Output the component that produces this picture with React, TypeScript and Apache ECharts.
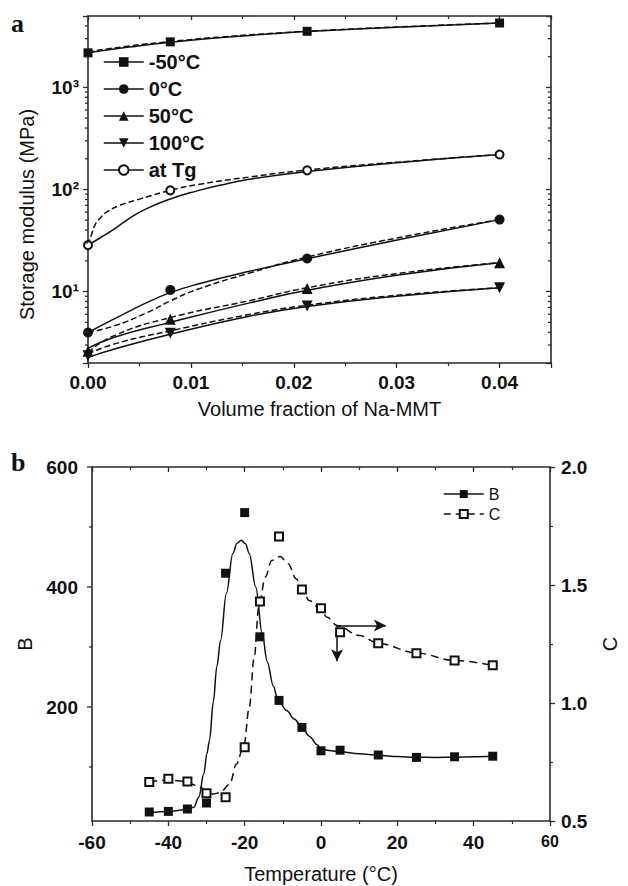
import React, { useEffect, useRef } from "react";
import * as echarts from "echarts";

// ---------- Panel a: storage modulus vs volume fraction ----------
const fractionX = [0, 0.008, 0.0213, 0.04];
const modulusM50 = [2180, 2790, 3540, 4270];
const modulus0 = [3.98, 10.4, 21.1, 50.7];
const modulus50 = [2.6, 5.37, 10.7, 19.2];
const modulus100 = [2.35, 3.92, 7.24, 10.9];
const modulusTg = [28.5, 98, 154, 220];

// fitted curves: [fraction, modulus]
const fitM50Solid = [[0, 2180], [0.004, 2480], [0.008, 2770], [0.013, 3080], [0.0187, 3390], [0.0213, 3520], [0.03, 3880], [0.04, 4270]];
const fitM50Dashed = [[0, 2230], [0.004, 2540], [0.008, 2810], [0.013, 3120], [0.0187, 3420], [0.0213, 3545], [0.03, 3900], [0.04, 4270]];
const fitTgSolid = [[0, 28.5], [0.0012, 33.7], [0.0025, 40.6], [0.0041, 52.7], [0.0057, 65], [0.008, 80.8], [0.0106, 97], [0.0128, 110], [0.0158, 126.5], [0.0213, 150], [0.03, 183], [0.04, 220]];
const fitTgDashed = [[0, 28.5], [0.0004, 37.7], [0.0007, 45.4], [0.0012, 52.7], [0.0018, 60], [0.0031, 70], [0.0051, 81], [0.008, 98], [0.0106, 111.5], [0.0158, 133], [0.0213, 155], [0.03, 185], [0.04, 220]];
const fit0Solid = [[0, 3.98], [0.0025, 5.37], [0.0057, 7.8], [0.008, 9.77], [0.0106, 11.8], [0.0158, 15.9], [0.0213, 21.0], [0.031, 33.5], [0.04, 50.7]];
const fit0Dashed = [[0, 3.98], [0.0025, 4.6], [0.0057, 6.2], [0.008, 8.1], [0.0106, 10.5], [0.0158, 15.3], [0.0213, 21.8], [0.031, 35], [0.04, 50.7]];
const fit50Solid = [[0, 2.79], [0.0025, 3.56], [0.008, 5.0], [0.0158, 7.8], [0.0213, 10.3], [0.03, 14.5], [0.04, 19.2]];
const fit50Dashed = [[0, 2.54], [0.0025, 3.69], [0.008, 5.57], [0.0158, 8.2], [0.0213, 10.9], [0.03, 15.0], [0.04, 19.2]];
const fit100Solid = [[0, 2.27], [0.0025, 2.73], [0.008, 3.83], [0.0158, 5.78], [0.0213, 7.15], [0.03, 9.0], [0.04, 10.9]];
const fit100Dashed = [[0, 2.44], [0.0025, 3.06], [0.008, 4.13], [0.0158, 6.0], [0.0213, 7.35], [0.03, 9.2], [0.04, 10.9]];

const logMinorTicks = [3, 4, 5, 6, 7, 8, 9, 20, 30, 40, 50, 60, 70, 80, 90, 200, 300, 400, 500, 600, 700, 800, 900, 2000, 3000, 4000];

// ---------- Panel b: B and C vs temperature ----------
const temperatures = [-45, -40, -35, -30, -25, -20, -16, -11, -5, 0, 5, 15, 25, 35, 45];
const valuesB = [25, 26, 30, 40, 423, 524, 317, 211, 166, 127, 128, 120, 116, 117, 118];
const valuesC = [0.665, 0.679, 0.667, 0.618, 0.601, 0.812, 1.43, 1.705, 1.481, 1.402, 1.3, 1.253, 1.211, 1.18, 1.16];

const fitB = [[-45, 24], [-40, 26], [-35, 29], [-33.3, 33], [-32, 50], [-30.7, 89], [-29.9, 122], [-29.2, 145], [-28.2, 209], [-27.3, 267], [-26.3, 311], [-24.8, 389], [-23.1, 456], [-22, 473], [-20.9, 478], [-19.8, 472], [-18.8, 456], [-17.1, 400], [-15.4, 322], [-14.1, 276], [-12.5, 235], [-11.3, 212], [-9, 194], [-7, 180], [-5, 166], [-3, 151], [-1, 137], [0, 131], [1.5, 128], [5, 125.5], [10, 122], [15, 119.5], [20, 117.5], [25, 116.2], [30, 116], [35, 116.2], [40, 117], [45, 117.8]];
const fitC = [[-45, 0.665], [-42, 0.672], [-40, 0.674], [-37, 0.67], [-35, 0.665], [-33, 0.652], [-31.6, 0.642], [-30, 0.628], [-28.2, 0.614], [-26.5, 0.62], [-23.9, 0.656], [-22.2, 0.74], [-20.2, 0.82], [-18.8, 0.981], [-17.5, 1.194], [-16.3, 1.406], [-14.6, 1.533], [-12.9, 1.604], [-10.7, 1.621], [-8.6, 1.59], [-6.5, 1.526], [-5, 1.485], [-3.1, 1.434], [0, 1.395], [1.6, 1.363], [4.2, 1.328], [10.1, 1.286], [15, 1.253], [25, 1.212], [35, 1.18], [45, 1.16]];

const bMajorTicks = [200, 400, 600];
const bMinorTicks = [100, 300, 500];
const bLabelValues = [200, 400, 600];

// arrows pointing to the C axis: [start, end]
const arrowStart = [4.2, 1.328];
const arrowRightEnd = [17, 1.328];
const arrowDownEnd = [4.2, 1.177];

const FONT = "'Liberation Sans', Arial, Helvetica, sans-serif";
const INK = "#111";
const AXIS = "#2a2a2a";

function tickSeries(xAxisIndex: number, yAxisIndex: number, edgeX: number, values: number[], len: number, dir: number) {
  return {
    type: "custom",
    xAxisIndex,
    yAxisIndex,
    silent: true,
    clip: false,
    z: 6,
    data: values.map((v) => [edgeX, v]),
    renderItem: (_p: any, api: any) => {
      const pt = api.coord([api.value(0), api.value(1)]);
      return {
        type: "line",
        shape: { x1: pt[0], y1: pt[1], x2: pt[0] + dir * len, y2: pt[1] },
        style: { stroke: AXIS, lineWidth: 1.3 },
      };
    },
  };
}

function curve(name: string, data: number[][], dashed: boolean, xi: number, yi: number, dash: number[] = [6, 3], monotone = false) {
  const s: any = {
    type: "line",
    name,
    xAxisIndex: xi,
    yAxisIndex: yi,
    data,
    symbol: "none",
    smooth: monotone ? 0.35 : 0.5,
    lineStyle: { color: INK, width: 1.5, type: dashed ? dash : "solid" },
    z: 3,
  };
  if (monotone) s.smoothMonotone = "x";
  return s;
}

function markers(name: string, ys: number[], xs: number[], symbol: string, size: number, xi: number, yi: number, rotate = 0) {
  return {
    type: "line",
    name,
    xAxisIndex: xi,
    yAxisIndex: yi,
    data: xs.map((x, i) => [x, ys[i]]),
    symbol,
    symbolSize: size,
    symbolRotate: rotate,
    showSymbol: true,
    lineStyle: { opacity: 0, width: 0 },
    itemStyle: { color: INK, borderColor: INK, borderWidth: symbol.indexOf("empty") === 0 ? 1.2 : 0 },
    z: 5,
  };
}

const superscripts: Record<string, string> = { "0": "⁰", "1": "¹", "2": "²", "3": "³", "4": "⁴" };

export default function App() {
  const ref = useRef<HTMLDivElement>(null);

  useEffect(() => {
    if (!ref.current) return;
    const chart = echarts.init(ref.current, undefined, { renderer: "svg" });

    const tickLabel = { fontFamily: FONT, fontWeight: "bold", fontSize: 19, color: INK };
    const axisLine = { show: true, onZero: false, lineStyle: { color: AXIS, width: 1.6 } };

    const option: any = {
      animation: false,
      backgroundColor: "#fff",
      textStyle: { fontFamily: FONT },
      grid: [
        { left: 88, top: 16, width: 463, height: 347 },
        { left: 92, top: 467, width: 470, height: 354 },
      ],
      xAxis: [
        {
          gridIndex: 0, type: "value", min: 0, max: 0.045, interval: 0.01,
          axisLine, splitLine: { show: false },
          axisTick: { show: true, inside: false, length: 5, lineStyle: { color: AXIS, width: 1.3 } },
          minorTick: { show: true, splitNumber: 2, length: 3, lineStyle: { color: AXIS, width: 1.2 } },
          axisLabel: {
            ...tickLabel, margin: 10,
            formatter: (v: number) => (Math.abs(v / 0.01 - Math.round(v / 0.01)) < 1e-6 ? v.toFixed(2) : ""),
          },
          name: "Volume fraction of Na-MMT", nameLocation: "middle", nameGap: 36,
          nameTextStyle: { fontFamily: FONT, fontSize: 20, color: INK },
        },
        {
          gridIndex: 0, type: "value", position: "top", min: 0, max: 0.045, interval: 0.01,
          axisLine, splitLine: { show: false }, axisLabel: { show: false },
          axisTick: { show: true, inside: true, length: 4, lineStyle: { color: AXIS, width: 1.3 } },
          minorTick: { show: true, splitNumber: 2, length: 3, lineStyle: { color: AXIS, width: 1.2 } },
        },
        {
          gridIndex: 1, type: "value", min: -60, max: 60, interval: 20,
          axisLine, splitLine: { show: false },
          axisTick: { show: true, inside: false, length: 5, lineStyle: { color: AXIS, width: 1.3 } },
          minorTick: { show: true, splitNumber: 2, length: 3, lineStyle: { color: AXIS, width: 1.2 } },
          axisLabel: {
            ...tickLabel, margin: 12,
            formatter: (v: number) => (v === 60 ? "{s|60}" : String(v)),
            rich: { s: { fontFamily: FONT, fontWeight: "bold", fontSize: 16, color: INK } },
          },
          name: "Temperature (°C)", nameLocation: "middle", nameGap: 43,
          nameTextStyle: { fontFamily: FONT, fontSize: 20, color: INK },
        },
        {
          gridIndex: 1, type: "value", position: "top", min: -60, max: 60, interval: 20,
          axisLine, splitLine: { show: false }, axisLabel: { show: false },
          axisTick: { show: true, inside: true, length: 5, lineStyle: { color: AXIS, width: 1.3 } },
          minorTick: { show: true, splitNumber: 2, length: 3, lineStyle: { color: AXIS, width: 1.2 } },
        },
      ],
      yAxis: [
        {
          gridIndex: 0, type: "log", logBase: 10, min: 2, max: 5000,
          axisLine, splitLine: { show: false },
          axisTick: { show: true, inside: false, length: 5, lineStyle: { color: AXIS, width: 1.3 } },
          axisLabel: {
            ...tickLabel, margin: 9,
            formatter: (v: number) => {
              const e = Math.round(Math.log10(v));
              if (Math.abs(v - Math.pow(10, e)) / v > 1e-6) return "";
              return "10" + String(e).split("").map((c) => superscripts[c] || c).join("");
            },
          },
          name: "Storage modulus (MPa)", nameLocation: "middle", nameGap: 51,
          nameTextStyle: { fontFamily: FONT, fontSize: 20, color: INK, padding: [0, 50, 0, 0] },
        },
        {
          gridIndex: 0, type: "log", logBase: 10, min: 2, max: 5000, position: "right",
          axisLine, splitLine: { show: false }, axisLabel: { show: false },
          axisTick: { show: true, inside: true, length: 5, lineStyle: { color: AXIS, width: 1.3 } },
        },
        {
          gridIndex: 1, type: "value", min: 10, max: 600,
          axisLine, splitLine: { show: false }, axisTick: { show: false },
          axisLabel: {
            ...tickLabel, margin: 14,
            formatter: (v: number) => (bLabelValues.indexOf(Math.round(v)) >= 0 && Math.abs(v - Math.round(v)) < 1e-6 ? String(Math.round(v)) : ""),
          },
          name: "B", nameLocation: "middle", nameGap: 57,
          nameTextStyle: { fontFamily: FONT, fontSize: 20, color: INK },
        },
        {
          gridIndex: 1, type: "value", min: 0.5, max: 2.0, interval: 0.5, position: "right",
          axisLine, splitLine: { show: false },
          axisTick: { show: true, inside: false, length: 5, lineStyle: { color: AXIS, width: 1.3 } },
          minorTick: { show: true, splitNumber: 2, length: 3, lineStyle: { color: AXIS, width: 1.2 } },
          axisLabel: { ...tickLabel, margin: 11, formatter: (v: number) => v.toFixed(1) },
          name: "C", nameLocation: "middle", nameGap: 50,
          nameTextStyle: { fontFamily: FONT, fontSize: 20, color: INK },
        },
      ],
      legend: [
        {
          left: 103, top: 52, padding: 0, orient: "vertical", itemWidth: 40, itemHeight: 12, itemGap: 7,
          data: ["-50°C", "0°C", "50°C", "100°C", "at Tg"],
          textStyle: { fontFamily: FONT, fontWeight: "bold", fontSize: 20, color: INK },
          lineStyle: { color: INK, width: 1.5, opacity: 1, type: "solid" },
          selectedMode: false,
        },
        {
          left: 443, top: 486, padding: 0, orient: "vertical", itemWidth: 40, itemHeight: 10, itemGap: 4,
          data: [
            { name: "B", lineStyle: { color: INK, width: 1.5, opacity: 1, type: "solid" } },
            { name: "C", lineStyle: { color: INK, width: 1.5, opacity: 1, type: [7, 5] } },
          ],
          textStyle: { fontFamily: FONT, fontSize: 16, color: INK },
          selectedMode: false,
        },
      ],
      graphic: [
        { type: "text", left: 11, top: 10, style: { text: "a", font: "bold 26px 'Liberation Serif', 'DejaVu Serif', serif", fill: INK } },
        { type: "text", left: 11, top: 449, style: { text: "b", font: "bold 26px 'Liberation Serif', 'DejaVu Serif', serif", fill: INK } },
      ],
      series: [
        curve("-50 solid", fitM50Solid, false, 0, 0),
        curve("-50 dashed", fitM50Dashed, true, 0, 0),
        curve("Tg solid", fitTgSolid, false, 0, 0),
        curve("Tg dashed", fitTgDashed, true, 0, 0),
        curve("0 solid", fit0Solid, false, 0, 0),
        curve("0 dashed", fit0Dashed, true, 0, 0),
        curve("50 solid", fit50Solid, false, 0, 0),
        curve("50 dashed", fit50Dashed, true, 0, 0),
        curve("100 solid", fit100Solid, false, 0, 0),
        curve("100 dashed", fit100Dashed, true, 0, 0),
        markers("-50°C", modulusM50, fractionX, "rect", 9, 0, 0),
        markers("0°C", modulus0, fractionX, "circle", 10, 0, 0),
        markers("50°C", modulus50, fractionX, "triangle", 11, 0, 0),
        markers("100°C", modulus100, fractionX, "triangle", 11, 0, 0, 180),
        markers("at Tg", modulusTg, fractionX, "emptyCircle", 8, 0, 0),
        tickSeries(0, 0, 0, logMinorTicks, 3, -1),
        tickSeries(0, 0, 0.045, logMinorTicks, 3, -1),
        curve("B fit", fitB, false, 2, 2, [6, 3], true),
        {
          ...curve("C fit", fitC, true, 2, 3, [8, 5], true),
          markLine: {
            silent: true,
            symbol: ["none", "arrow"],
            symbolSize: [9, 12],
            label: { show: false },
            lineStyle: { color: INK, width: 1.5, type: "solid" },
            data: [
              [{ coord: arrowStart }, { coord: arrowRightEnd }],
              [{ coord: arrowStart }, { coord: arrowDownEnd }],
            ],
          },
        },
        markers("B", valuesB, temperatures, "rect", 9, 2, 2),
        markers("C", valuesC, temperatures, "emptyRect", 8, 2, 3),
        tickSeries(2, 2, -60, bMajorTicks, 5, -1),
        tickSeries(2, 2, -60, bMinorTicks, 3, -1),
      ],
    };

    chart.setOption(option);
    return () => chart.dispose();
  }, []);

  return (
    <div
      ref={ref}
      style={{ position: "absolute", left: 0, top: 0, width: 628, height: 886, background: "#fff" }}
    />
  );
}
